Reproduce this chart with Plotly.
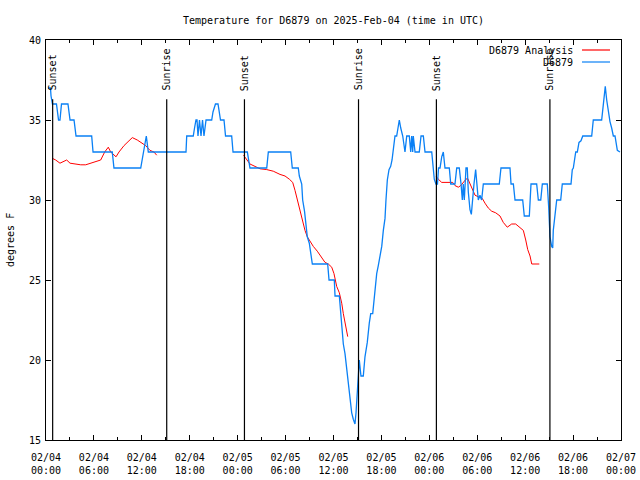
import pandas as pd
import plotly.graph_objects as go

# ---- data (hours since 2025-02-04 00:00 UTC, degrees F) ----
obs_hours = [0.25, 0.56, 0.63, 0.81, 1.31, 1.44, 1.57, 1.75, 1.94, 2.75, 2.88, 3.01, 3.51, 3.63, 3.76,
             5.72, 5.89, 8.30, 8.51, 11.86, 12.02, 12.27, 12.56, 12.81, 17.53, 17.62, 18.44, 18.60,
             18.78, 18.91, 19.03, 19.22, 19.41, 19.60, 19.78, 20.04, 20.75, 20.91, 21.22, 21.54,
             21.66, 21.85, 22.29, 22.48, 23.25, 23.42, 25.21, 25.36, 25.54, 27.64, 27.84, 30.64,
             30.84, 31.59, 31.72, 32.02, 32.14, 32.37, 32.56, 32.72, 32.97, 33.15, 33.35, 35.27,
             35.44, 36.10, 36.19, 36.73, 36.85, 37.03, 37.23, 37.44, 37.65, 37.85, 38.07, 38.28,
             38.48, 38.69, 38.82, 38.98, 39.11, 39.23, 39.44, 39.73, 39.94, 40.23, 40.48, 40.66,
             40.91, 41.07, 41.23, 41.41, 41.61, 41.82, 42.04, 42.24, 42.45, 42.57, 42.74, 42.95,
             43.16, 43.33, 43.49, 43.70, 43.91, 44.11, 44.24, 44.42, 44.67, 44.95, 45.17, 45.49,
             45.67, 45.79, 45.92, 45.99, 46.21, 46.74, 46.96, 47.25, 47.46, 48.30, 48.50, 48.62,
             48.83, 49.02, 49.15, 49.34, 49.55, 49.75, 49.96, 50.50, 50.68, 51.21, 51.43, 51.75,
             51.97, 52.13, 52.25, 52.38, 52.59, 52.75, 52.88, 53.09, 53.26, 53.43, 53.59, 53.80,
             53.93, 54.13, 54.34, 54.55, 54.76, 56.76, 56.97, 58.10, 58.23, 58.52, 58.73, 59.69,
             59.89, 60.52, 60.73, 61.44, 61.65, 61.95, 62.15, 62.77, 62.95, 63.11, 63.32, 63.45,
             63.52, 63.74, 63.95, 64.45, 64.65, 65.74, 65.90, 66.03, 66.33, 66.53, 66.74, 66.99,
             67.21, 68.33, 68.53, 69.58, 69.71, 69.87, 70.03, 70.21, 70.41, 70.62, 70.83, 71.04,
             71.25, 71.37, 71.54, 71.87]
obs_temps = [37, 37, 36.5, 36, 36, 35.5, 35, 35, 36, 36, 35.5, 35, 35, 34.5, 34,
             34, 33, 33, 32, 32, 32.5, 33, 34, 33, 33, 34, 34, 34.5,
             35, 35, 34, 35, 34, 35, 34, 35, 35, 35.5, 36, 36,
             35.5, 35, 35, 34, 34, 33, 33, 32.5, 32, 32, 33, 33,
             32, 32, 31.5, 31, 30, 29.3, 28.5, 27.7, 27.3, 26.7, 26, 26,
             25, 25, 24, 24, 23.3, 22.2, 21, 20.4, 19.4, 18.3, 17.5, 16.7,
             16.3, 16, 16.7, 17.9, 19.2, 20, 19, 19, 20.2, 21.1, 22.3, 22.9,
             22.9, 23.75, 24.5, 25.4, 25.9, 26.5, 27.1, 28.1, 28.85, 30, 31.25, 31.9,
             32.1, 32.5, 33.3, 34, 34, 34.6, 35, 34.5, 34, 33, 34, 34,
             33, 34, 33, 34, 33, 33, 34, 34, 33, 33, 32, 31.3,
             31, 31, 32, 32, 32.7, 33, 32, 32, 31, 31, 32, 32,
             31, 30, 31, 30, 32, 32, 30.5, 29.4, 29.1, 30.3, 31, 31.9,
             31, 30, 30.3, 30, 31, 31, 32, 32, 31, 31, 30, 30,
             29, 29, 31, 31, 30, 30, 31, 31, 29.5, 27.7, 27.1, 27,
             28.1, 29.2, 30, 30, 31, 31, 31.9, 32, 33, 33, 33.6, 33.7,
             34, 34, 35, 35, 35.6, 36.5, 37.1, 36.25, 35.4, 34.9, 34.5, 34,
             34, 33.5, 33.1, 33]

ana_hours = [0.81, 1.21, 1.75, 2.17, 2.59, 3.01, 3.59, 4.35, 4.97, 5.60, 6.35, 6.85, 7.35, 7.80,
             8.10, 8.77, 9.14, 9.77, 10.39, 10.81, 11.43, 11.86, 12.48, 13.02, 13.52, 13.86,
             None,
             24.73, 25.21, 25.54, 26.17, 26.80, 27.64, 28.46, 29.30, 29.93, 30.47, 30.89, 31.18,
             31.47, 31.81, 32.14, 32.43, 32.72, 33.06, 33.47, 33.97, 34.52, 34.94, 35.35, 35.78,
             36.06, 36.40, 36.73, 37.03, 37.23, 37.44, 37.65, 37.78,
             None,
             48.84, 49.12, 49.55, 50.21, 50.93, 51.21, 51.63, 51.93, 52.25, 52.59, 52.80, 53.09,
             53.43, 53.72, 54.13, 54.63, 54.97, 55.38, 55.81, 56.31, 56.85, 57.26, 57.76, 58.31,
             58.81, 59.27, 59.77, 60.07, 60.32, 60.61, 60.82, 61.23, 61.77]
ana_temps = [32.6, 32.5, 32.3, 32.4, 32.5, 32.3, 32.25, 32.2, 32.2, 32.3, 32.4, 32.5, 33.0, 33.3,
             33.0, 32.7, 33.0, 33.4, 33.7, 33.9, 33.75, 33.6, 33.4, 33.1, 33.0, 32.8,
             None,
             32.8, 32.5, 32.25, 32.1, 31.95, 31.9, 31.8, 31.6, 31.5, 31.3, 31.1, 30.6,
             30.0, 29.3, 28.8, 28.1, 27.7, 27.4, 27.1, 26.8, 26.4, 26.1, 26.0, 25.8,
             25.4, 24.6, 24.2, 23.55, 22.9, 22.3, 21.8, 21.46,
             None,
             31.5, 31.3, 31.1, 31.1, 31.1, 30.9, 30.8, 30.9, 31.1, 31.3, 31.35, 31.0,
             30.6, 30.3, 30.2, 30.1, 29.8, 29.5, 29.3, 29.2, 29.0, 28.6, 28.3, 28.5,
             28.5, 28.3, 28.1, 27.5, 26.9, 26.5, 26.0, 26.0, 26.0]

sun_events = ["Sunset", "Sunrise", "Sunset", "Sunrise", "Sunset", "Sunrise"]
sun_times = ["2025-02-04 00:50", "2025-02-04 15:07", "2025-02-05 00:51",
             "2025-02-05 15:08", "2025-02-06 00:53", "2025-02-06 15:06"]

station = "D6879"
title_text = "Temperature for D6879 on 2025-Feb-04 (time in UTC)"
y_title = "degrees F"
x_start, x_end = "2025-02-04 00:00", "2025-02-07 00:00"
y_ticks = [15, 20, 25, 30, 35, 40]

# ---- build ----
base = pd.Timestamp("2025-02-04 00:00")
def to_time(hs):
    return [None if h is None else base + pd.Timedelta(hours=h) for h in hs]

FONT = "DejaVu Sans Mono"
FS = 10
RED = "#ff0000"
BLUE = "#0a80f5"

fig = go.Figure()
fig.add_trace(go.Scatter(x=to_time(ana_hours), y=ana_temps, mode="lines",
                         line=dict(color=RED, width=1), name=station + " Analysis",
                         connectgaps=False, showlegend=False))
fig.add_trace(go.Scatter(x=to_time(obs_hours), y=obs_temps, mode="lines",
                         line=dict(color=BLUE, width=1.3), name=station, showlegend=False))

for ev, t in zip(sun_events, sun_times):
    fig.add_shape(type="line", xref="x", yref="y", x0=t, x1=t, y0=15, y1=36.3,
                  line=dict(color="black", width=1.2), layer="above")
    fig.add_annotation(x=t, y=36.7, xref="x", yref="y", text=ev, textangle=-90,
                       showarrow=False, xanchor="center", yanchor="bottom",
                       font=dict(family=FONT, size=FS, color="black"))

# gnuplot-style legend (text right, sample line at right)
legend_items = [(station + " Analysis", RED), (station, BLUE)]
for i, (label, col) in enumerate(legend_items):
    ypix = 50 + 12 * i
    yp = (440 - ypix) / 400
    fig.add_annotation(x=(575 - 46) / 575, y=yp, xref="paper", yref="paper", text=label,
                       showarrow=False, xanchor="right", yanchor="middle",
                       font=dict(family=FONT, size=FS, color="black"))
    fig.add_shape(type="line", xref="paper", yref="paper",
                  x0=(582 - 46) / 575, x1=(610 - 46) / 575, y0=yp, y1=yp,
                  line=dict(color=col, width=1.2))

fig.add_annotation(x=(10 - 46) / 575, y=0.5, xref="paper", yref="paper", text=y_title,
                   textangle=-90, showarrow=False, xanchor="center", yanchor="middle",
                   font=dict(family=FONT, size=FS, color="black"))

fig.update_layout(
    width=640, height=480,
    margin=dict(l=46, r=19, t=40, b=40, autoexpand=False),
    paper_bgcolor="white", plot_bgcolor="white",
    title=dict(text=title_text, x=333.5 / 640, xanchor="center",
               y=1 - 20 / 480, yref="container", yanchor="middle",
               font=dict(family=FONT, size=FS, color="black")),
    font=dict(family=FONT, size=FS, color="black"),
    showlegend=False,
)
fig.update_xaxes(range=[x_start, x_end], type="date", dtick=6 * 3600 * 1000,
                 tick0=x_start, tickformat="%m/%d<br>%H:%M", automargin=False,
                 ticks="inside", ticklen=5, tickcolor="black", ticklabelstandoff=8,
                 minor=dict(dtick=3 * 3600 * 1000, ticks="inside", ticklen=3, tickcolor="black"),
                 showline=True, linecolor="black", linewidth=1, mirror="ticks",
                 showgrid=False, zeroline=False,
                 tickfont=dict(family=FONT, size=FS, color="black"))
fig.update_yaxes(range=[15, 40], tickvals=y_ticks, ticks="inside", ticklen=5, tickcolor="black",
                 showline=True, linecolor="black", linewidth=1, mirror="ticks", automargin=False,
                 showgrid=False, zeroline=False, ticklabelstandoff=2,
                 tickfont=dict(family=FONT, size=FS, color="black"))

fig.write_html("out.html", config={"displayModeBar": False},
               post_script="document.body.style.margin='0px';")
